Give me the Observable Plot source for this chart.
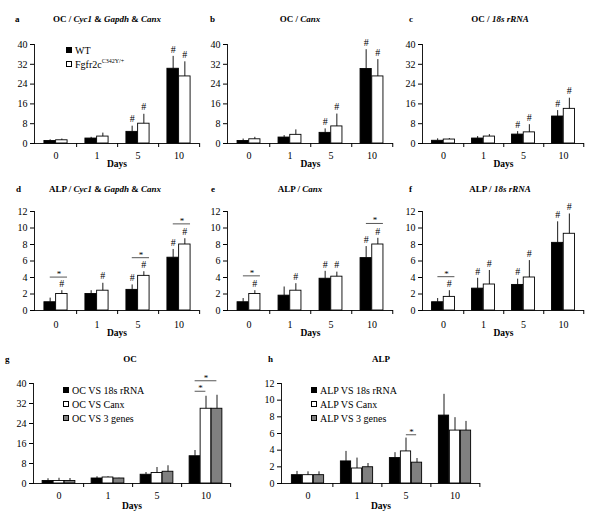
<!DOCTYPE html>
<html><head><meta charset="utf-8">
<script src="https://cdn.jsdelivr.net/npm/d3@7"></script>
<script src="https://cdn.jsdelivr.net/npm/@observablehq/plot@0.6"></script>
<style>
body{margin:0;background:#fff;}
#root{position:relative;width:600px;height:526px;overflow:hidden;font-family:"Liberation Serif","Times New Roman",serif;color:#000;}
.panel{position:absolute;}
.t{position:absolute;transform:translate(-50%,-50%);font-weight:bold;font-size:9px;white-space:nowrap;}
.l{position:absolute;transform:translate(0,-50%);font-weight:bold;font-size:9px;}
.leg{position:absolute;font-size:10px;white-space:nowrap;}
.leg div{display:flex;align-items:center;height:14px;}
.sw{display:inline-block;width:6px;height:6px;border:1px solid #000;margin-right:3px;box-sizing:border-box;}
sup{font-size:6px;vertical-align:5px;line-height:0;}
</style></head><body><div id="root"></div>
<script>
// ---- categories ----
const days = ["0", "1", "5", "10"];

// ---- panel a: OC / Cyc1 & Gapdh & Canx ----
const aWT = [1.0, 2.0, 4.7, 30.2];
const aWTsd = [0.5, 0.5, 2.3, 5.0];
const aMut = [1.3, 2.8, 8.0, 27.1];
const aMutsd = [0.5, 1.4, 3.8, 5.9];
const aWThash = [0, 0, 1, 1];
const aMuthash = [0, 0, 1, 1];

// ---- panel b: OC / Canx ----
const bWT = [1.0, 2.4, 4.3, 30.1];
const bWTsd = [0.8, 0.8, 1.6, 7.8];
const bMut = [1.7, 3.5, 6.9, 27.1];
const bMutsd = [0.8, 2.0, 5.0, 6.8];
const bWThash = [0, 0, 1, 1];
const bMuthash = [0, 0, 1, 1];

// ---- panel c: OC / 18s rRNA ----
const cWT = [1.1, 2.0, 3.6, 10.9];
const cWTsd = [0.8, 0.8, 1.2, 2.4];
const cMut = [1.6, 2.8, 4.5, 14.0];
const cMutsd = [0.4, 0.8, 3.1, 4.3];
const cWThash = [0, 0, 1, 1];
const cMuthash = [0, 0, 1, 1];

// ---- panel d: ALP / Cyc1 & Gapdh & Canx ----
const dWT = [1.0, 2.0, 2.5, 6.4];
const dWTsd = [0.5, 0.4, 0.6, 1.0];
const dMut = [2.0, 2.4, 4.2, 8.0];
const dMutsd = [0.4, 0.9, 0.5, 0.7];
const dWThash = [0, 0, 1, 1];
const dMuthash = [1, 1, 1, 1];
const dStar = [4.05, null, 6.4, 10.5];

// ---- panel e: ALP / Canx ----
const eWT = [1.0, 1.8, 3.85, 6.35];
const eWTsd = [0.45, 1.05, 0.9, 1.4];
const eMut = [2.0, 2.4, 4.1, 8.0];
const eMutsd = [0.4, 0.85, 0.55, 0.75];
const eWThash = [0, 0, 1, 1];
const eMuthash = [1, 1, 1, 1];
const eStar = [4.2, null, null, 10.55];

// ---- panel f: ALP / 18s rRNA ----
const fWT = [1.0, 2.65, 3.1, 8.2];
const fWTsd = [0.45, 1.25, 0.7, 2.55];
const fMut = [1.65, 3.15, 4.0, 9.3];
const fMutsd = [0.75, 1.7, 2.05, 2.4];
const fWThash = [0, 1, 1, 1];
const fMuthash = [1, 1, 1, 1];
const fStar = [4.1, null, null, null];

// ---- panel g: OC ----
const g18s = [1.0, 2.0, 3.5, 10.9];
const g18sSd = [0.9, 0.7, 0.9, 2.3];
const gCanx = [1.0, 2.4, 4.2, 29.9];
const gCanxSd = [1.1, 0.3, 2.2, 5.0];
const g3 = [1.0, 2.0, 4.7, 29.9];
const g3Sd = [1.0, 0.1, 2.4, 5.4];
const gStarCanx = [null, null, null, 36.9];
const gStar3 = [null, null, null, 41.1];

// ---- panel h: ALP ----
const h18s = [1.0, 2.65, 3.05, 8.15];
const h18sSd = [0.45, 1.2, 0.65, 2.55];
const hCanx = [1.0, 1.8, 3.85, 6.35];
const hCanxSd = [0.4, 1.25, 1.6, 1.55];
const h3 = [1.0, 1.95, 2.5, 6.35];
const h3Sd = [0.4, 0.45, 0.5, 1.1];
const hStarCanx3 = [null, null, 5.85, null];

const ticks40 = [0, 8, 16, 24, 32, 40];
const ticks12 = [0, 2, 4, 6, 8, 10, 12];

const root = document.getElementById("root");

function panel(cfg) {
  const {left, top, width, height, ml, mr, mt, mb, yMax, yTicks, series, stars = [], barW, tickPad, daysDy} = cfg;
  const B = (width - ml - mr) / days.length;
  const n = series.length;
  const off = i => (i - (n - 1) / 2) * barW;
  const marks = [];
  series.forEach((s, i) => {
    const o = off(i);
    const rows = days.map((d, j) => ({day: d, v: s.values[j], top: s.values[j] + s.sd[j], hash: s.hash ? s.hash[j] : 0}));
    marks.push(Plot.barY(rows, {x: "day", y: "v", fill: s.fill, stroke: "#000", strokeWidth: 0.9,
      insetLeft: B / 2 + o - barW / 2, insetRight: B / 2 - o - barW / 2}));
    marks.push(Plot.ruleX(rows, {x: "day", y1: "v", y2: "top", dx: o, stroke: "#000", strokeWidth: 0.9}));
    marks.push(Plot.text(rows.filter(r => r.hash), {x: "day", y: "top", text: () => "#", dx: o, dy: -7, fontSize: 10, fill: "#000"}));
  });
  stars.forEach(st => {
    const rows = days.map((d, j) => ({day: d, y: st.values[j]})).filter(r => r.y != null);
    const oa = off(st.from) - (st.extendLeft || 0), ob = off(st.to) + (st.extendRight || 0);
    marks.push(Plot.tickY(rows, {x: "day", y: "y", stroke: "#444", strokeWidth: 0.9,
      insetLeft: B / 2 + oa, insetRight: B / 2 - ob}));
    marks.push(Plot.text(rows, {x: "day", y: "y", text: () => "*", dx: (oa + ob) / 2, dy: -3, fontSize: 9, fill: "#000"}));
  });
  marks.push(Plot.ruleY([0], {stroke: "#000", strokeWidth: 0.9}));
  marks.push(Plot.frame({anchor: "left", stroke: "#000", strokeWidth: 0.9}));
  marks.push(Plot.axisY({ticks: yTicks, tickSize: 4, tickPadding: 3, label: null, fontSize: 10}));
  marks.push(Plot.axisX({tickSize: 0, tickPadding: tickPad, label: null, fontSize: 10}));
  marks.push(Plot.axisX({tickSize: 4, tickFormat: () => "", label: null, dx: B / 2}));
  marks.push(Plot.text(["Days"], {frameAnchor: "bottom", dy: daysDy, text: d => d, fontWeight: "bold", fontSize: 9.5, fill: "#000"}));
  const chart = Plot.plot({
    width, height, marginLeft: ml, marginRight: mr, marginTop: mt, marginBottom: mb,
    style: {fontFamily: "Liberation Serif, Times New Roman, serif", fontSize: "10px", color: "#000", background: "transparent", overflow: "visible"},
    x: {type: "band", domain: days, padding: 0, axis: null},
    y: {domain: [0, yMax], axis: null},
    marks
  });
  const div = document.createElement("div");
  div.className = "panel";
  div.style.left = left + "px";
  div.style.top = top + "px";
  div.appendChild(chart);
  root.appendChild(div);
}

function two(values, sd, hash, values2, sd2, hash2) {
  return [
    {values, sd, hash, fill: "#000"},
    {values: values2, sd: sd2, hash: hash2, fill: "#fff"}
  ];
}

const row1 = {top: 0, height: 170, mt: 44, mb: 27, yMax: 40, yTicks: ticks40, barW: 11.7, tickPad: 8, daysDy: 23};
const row2 = {top: 170, height: 170, mt: 41, mb: 30, yMax: 12, yTicks: ticks12, barW: 11.7, tickPad: 10, daysDy: 25};
const row3 = {top: 340, height: 186, mt: 43, mb: 43, barW: 11, tickPad: 8, daysDy: 25};

panel({...row1, left: 0, width: 200, ml: 34, mr: 1, series: two(aWT, aWTsd, aWThash, aMut, aMutsd, aMuthash)});
panel({...row1, left: 194, width: 200, ml: 33, mr: 1, series: two(bWT, bWTsd, bWThash, bMut, bMutsd, bMuthash)});
panel({...row1, left: 394, width: 206, ml: 28, mr: 16, series: two(cWT, cWTsd, cWThash, cMut, cMutsd, cMuthash)});

panel({...row2, left: 0, width: 200, ml: 34, mr: 1, series: two(dWT, dWTsd, dWThash, dMut, dMutsd, dMuthash),
  stars: [{values: dStar, from: 0, to: 1, extendRight: 5.8}]});
panel({...row2, left: 194, width: 200, ml: 33, mr: 1, series: two(eWT, eWTsd, eWThash, eMut, eMutsd, eMuthash),
  stars: [{values: eStar, from: 0, to: 1, extendRight: 5.8}]});
panel({...row2, left: 394, width: 206, ml: 28, mr: 16, series: two(fWT, fWTsd, fWThash, fMut, fMutsd, fMuthash),
  stars: [{values: fStar, from: 0, to: 1, extendRight: 5.8}]});

panel({...row3, left: 0, width: 240, ml: 33, mr: 10, yMax: 40, yTicks: ticks40,
  series: [{values: g18s, sd: g18sSd, fill: "#000"}, {values: gCanx, sd: gCanxSd, fill: "#fff"}, {values: g3, sd: g3Sd, fill: "#808080"}],
  stars: [{values: gStarCanx, from: 0, to: 1}, {values: gStar3, from: 0, to: 2}]});
panel({...row3, left: 248, width: 240, ml: 33, mr: 8, yMax: 12, yTicks: ticks12,
  series: [{values: h18s, sd: h18sSd, fill: "#000"}, {values: hCanx, sd: hCanxSd, fill: "#fff"}, {values: h3, sd: h3Sd, fill: "#808080"}],
  stars: [{values: hStarCanx3, from: 1, to: 2}]});

// ---- titles ----
const titles = [
  ["a", 15, 19, '<b>OC / <i>Cyc1</i> &amp; <i>Gapdh</i> &amp; <i>Canx</i></b>', 107, 19],
  ["b", 210, 19, '<b>OC / <i>Canx</i></b>', 300, 19],
  ["c", 409, 19, '<b>OC / <i>18s rRNA</i></b>', 500, 19],
  ["d", 16, 189, '<b>ALP / <i>Cyc1</i> &amp; <i>Gapdh</i> &amp; <i>Canx</i></b>', 105, 189],
  ["e", 211, 189, '<b>ALP / <i>Canx</i></b>', 300, 189],
  ["f", 409, 189, '<b>ALP / <i>18s rRNA</i></b>', 500, 189],
  ["g", 5, 359, '<b>OC</b>', 130, 359],
  ["h", 268, 359, '<b>ALP</b>', 381, 359]
];
titles.forEach(([letter, lx, ly, html, tx, ty]) => {
  const l = document.createElement("div");
  l.className = "l"; l.style.left = lx + "px"; l.style.top = ly + "px"; l.textContent = letter;
  root.appendChild(l);
  const t = document.createElement("div");
  t.className = "t"; t.style.left = tx + "px"; t.style.top = ty + "px"; t.innerHTML = html;
  root.appendChild(t);
});

// ---- legends ----
function legend(x, y, items) {
  const lg = document.createElement("div");
  lg.className = "leg"; lg.style.left = x + "px"; lg.style.top = y + "px";
  items.forEach(([fill, html]) => {
    const r = document.createElement("div");
    r.innerHTML = `<span class="sw" style="background:${fill}"></span><span>${html}</span>`;
    lg.appendChild(r);
  });
  root.appendChild(lg);
}
const genoLabels = ["WT", "Fgfr2c<sup>C342Y/+</sup>"];
legend(66, 43, [["#000", genoLabels[0]], ["#fff", genoLabels[1]]]);
const gLabels = ["OC VS 18s rRNA", "OC VS Canx", "OC VS 3 genes"];
legend(63, 383, [["#000", gLabels[0]], ["#fff", gLabels[1]], ["#808080", gLabels[2]]]);
const hLabels = ["ALP VS 18s rRNA", "ALP VS Canx", "ALP VS 3 genes"];
legend(311, 383, [["#000", hLabels[0]], ["#fff", hLabels[1]], ["#808080", hLabels[2]]]);
</script></body></html>
